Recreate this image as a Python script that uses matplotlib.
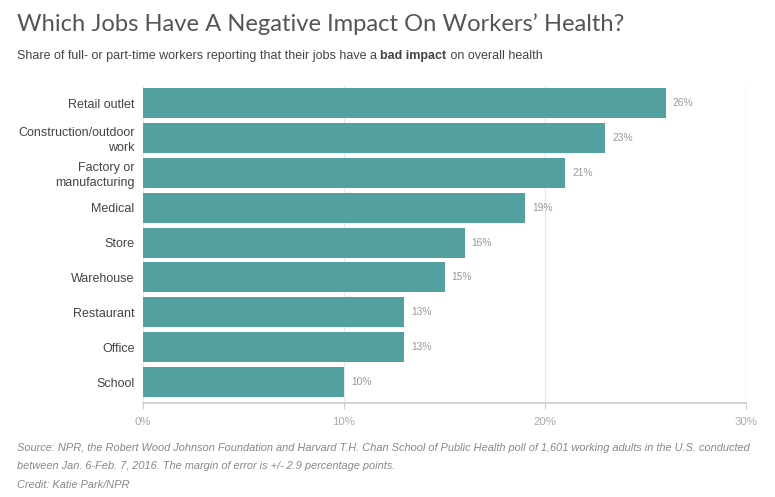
import numpy as np
import matplotlib
matplotlib.use('Agg')
import matplotlib.pyplot as plt

categories = ['Retail outlet', 'Construction/outdoor\nwork', 'Factory or\nmanufacturing',
              'Medical', 'Store', 'Warehouse', 'Restaurant', 'Office', 'School']
values = [26, 23, 21, 19, 16, 15, 13, 13, 10]
ticks = [0, 10, 20, 30]

teal = '#52a09f'

def main():
    plt.rcParams['font.family'] = ['Liberation Sans', 'DejaVu Sans']
    fig = plt.figure(figsize=(7.75, 4.97), dpi=100)
    ax = fig.add_axes([143 / 775, 1 - 403 / 497, 603 / 775, 317 / 497])

    y = np.arange(len(categories))
    ax.barh(y, values, height=0.86, color=teal, zorder=3)
    for yi, v in zip(y, values):
        ax.text(v + 0.35, yi, f'{v}%', va='center', ha='left', fontsize=7.4, color='#999999')

    ax.set_xlim(0, 30)
    ax.set_ylim(8.6, -0.49)
    ax.set_xticks(ticks)
    ax.set_xticklabels([f'{t}%' for t in ticks], color='#aaaaaa', fontsize=8.2)
    ax.set_yticks(y)
    ax.set_yticklabels(categories, fontsize=9, color='#444444', linespacing=1.25)
    ax.tick_params(axis='y', length=0, pad=6)
    ax.tick_params(axis='x', length=4, color='#cccccc', pad=6)
    ax.xaxis.grid(True, color='#e8e8e8', linewidth=1, zorder=0)
    for s in ['top', 'right', 'left']:
        ax.spines[s].set_visible(False)
    ax.spines['bottom'].set_color('#cccccc')
    ax.spines['bottom'].set_linewidth(1.2)

    fig.text(17 / 775, 1 - 31 / 497, 'Which Jobs Have A Negative Impact On Workers\u2019 Health?',
             fontsize=17.1, color='#555555', family=['Lato', 'DejaVu Sans'])

    # subtitle with a bold part
    fig.canvas.draw()
    r = fig.canvas.get_renderer()
    x0 = 17 / 775
    ys = 1 - 59 / 497
    parts = [('Share of full- or part-time workers reporting that their jobs have a ', 'normal'),
             ('bad impact', 'bold'),
             (' on overall health', 'normal')]
    for txt, w in parts:
        t = fig.text(x0, ys, txt, fontsize=9, color='#444444', fontweight=w)
        bb = t.get_window_extent(renderer=r)
        x0 += bb.width / fig.bbox.width

    foot = ('Source: NPR, the Robert Wood Johnson Foundation and Harvard T.H. Chan School of Public Health poll of 1,601 '
            'working adults in the U.S. conducted')
    fig.text(17 / 775, 1 - 451 / 497, foot, fontsize=7.95, color='#888888', style='italic')
    fig.text(17 / 775, 1 - 469 / 497, 'between Jan. 6-Feb. 7, 2016. The margin of error is +/- 2.9 percentage points.',
             fontsize=7.95, color='#888888', style='italic')
    fig.text(17 / 775, 1 - 488 / 497, 'Credit: Katie Park/NPR', fontsize=7.95, color='#888888', style='italic')

    fig.savefig('out.png', dpi=100)

if __name__ == '__main__':
    main()
